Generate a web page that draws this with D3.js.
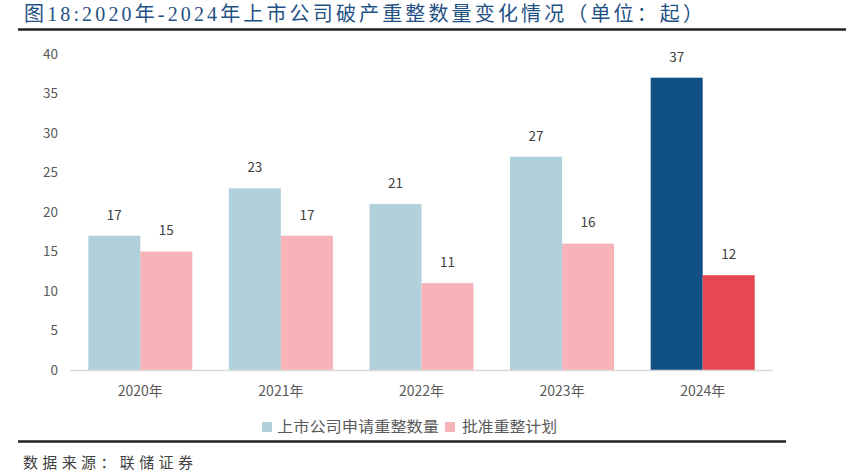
<!DOCTYPE html>
<html><head><meta charset="utf-8">
<script src="https://cdn.jsdelivr.net/npm/d3@7"></script>
<style>body{margin:0;background:#fff;}svg{display:block;}</style>
</head><body>
<svg id="c" width="846" height="476"></svg>
<script>
const categories = ["2020年","2021年","2022年","2023年","2024年"];
const seriesNames = ["上市公司申请重整数量","批准重整计划"];
const applyCounts = [17,23,21,27,37];
const approveCounts = [15,17,11,16,12];
const yTicks = [0,5,10,15,20,25,30,35,40];
const titleText = "图18:2020年-2024年上市公司破产重整数量变化情况（单位：起）";
const sourceText = "数据来源：联储证券";

const svg = d3.select("#c");
const font = "'Noto Sans CJK SC','Noto Sans',sans-serif";

// title
svg.append("text").attr("x",24).attr("y",21)
  .attr("font-family","'Liberation Serif','DejaVu Serif','Noto Sans CJK SC',serif")
  .attr("font-size",20).attr("fill","#1f5184")
  .attr("textLength",679).attr("lengthAdjust","spacing")
  .text(titleText);
svg.append("line").attr("x1",18).attr("x2",846).attr("y1",29.5).attr("y2",29.5)
  .attr("stroke","#222").attr("stroke-width",2.5);

const x = d3.scaleBand().domain(categories).range([70,773]).paddingInner(0.26).paddingOuter(0.13);
const xs = d3.scaleBand().domain([0,1]).range([0,x.bandwidth()]);
const y = d3.scaleLinear().domain([0,40]).range([370,54]);

// y tick labels
svg.append("g").selectAll("text").data(yTicks).join("text")
  .attr("x",58).attr("y",d=>y(d)).attr("dy","0.36em").attr("text-anchor","end")
  .attr("font-family",font).attr("font-size",13.5).attr("fill","#595959")
  .text(d=>d);

const colors = [
  (i)=> i===4 ? "#105084" : "#b0d0dc",
  (i)=> i===4 ? "#e84650" : "#f6b4b8"
];
const series = [applyCounts, approveCounts];

series.forEach((vals,s)=>{
  const g = svg.append("g");
  g.selectAll("rect").data(vals).join("rect")
    .attr("x",(d,i)=>x(categories[i])+xs(s))
    .attr("width",xs.bandwidth())
    .attr("y",d=>y(d))
    .attr("height",d=>y(0)-y(d))
    .attr("fill",(d,i)=>colors[s](i));
  g.selectAll("text").data(vals).join("text")
    .attr("x",(d,i)=>x(categories[i])+xs(s)+xs.bandwidth()/2)
    .attr("y",d=>y(d)-21).attr("dy","0.36em").attr("text-anchor","middle")
    .attr("font-family",font).attr("font-size",13.5).attr("fill","#404040")
    .text(d=>d);
});

// x axis line
svg.append("line").attr("x1",70).attr("x2",773).attr("y1",370.5).attr("y2",370.5)
  .attr("stroke","#d9d9d9").attr("stroke-width",1.5);

// x labels
svg.append("g").selectAll("text").data(categories).join("text")
  .attr("x",d=>x(d)+x.bandwidth()/2).attr("y",391).attr("dy","0.36em")
  .attr("text-anchor","middle").attr("font-family",font).attr("font-size",14)
  .attr("fill","#595959").text(d=>d);

// legend
const legend = [
  {name:seriesNames[0], color:"#b0d0dc", sx:262, tx:277, w:162},
  {name:seriesNames[1], color:"#f6b4b8", sx:445, tx:462, w:95}
];
legend.forEach(l=>{
  svg.append("rect").attr("x",l.sx).attr("y",422).attr("width",10).attr("height",10).attr("fill",l.color);
  svg.append("text").attr("x",l.tx).attr("y",427).attr("dy","0.36em")
    .attr("font-family",font).attr("font-size",15).attr("fill","#595959")
    .attr("textLength",l.w).attr("lengthAdjust","spacingAndGlyphs").text(l.name);
});

// footer
svg.append("line").attr("x1",18).attr("x2",786).attr("y1",441.5).attr("y2",441.5)
  .attr("stroke","#222").attr("stroke-width",2.5);
svg.append("text").attr("x",23).attr("y",463).attr("dy","0.36em")
  .attr("font-family",font).attr("font-size",15).attr("fill","#404040")
  .attr("textLength",170).attr("lengthAdjust","spacing").text(sourceText);
</script>
</body></html>
